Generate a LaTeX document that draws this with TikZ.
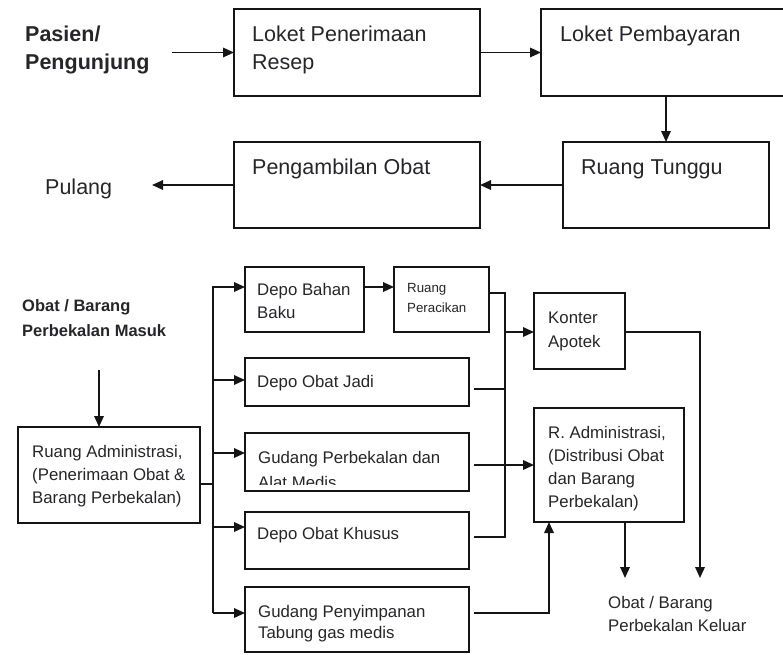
\documentclass[tikz,border=0pt]{standalone}
\usepackage{fontspec}
\setmainfont{Liberation Sans}
\usetikzlibrary{arrows.meta}
\definecolor{ink}{HTML}{151515}
\definecolor{txt}{HTML}{25252B}
\newcommand\lines[1]{\begin{tabular}[t]{@{}l@{}}#1\end{tabular}}

\begin{document}
\begin{tikzpicture}[x=1pt,y=-1pt,
  box/.style={draw=ink, line width=1.7pt, inner sep=0pt, outer sep=0pt},
  txtbig/.style={font=\fontsize{21.5}{28.5}\selectfont, text=txt, anchor=base west, inner sep=0pt},
  txtbold/.style={font=\fontsize{21.5}{28.5}\selectfont\bfseries, text=txt, anchor=base west, inner sep=0pt},
  txtmid/.style={font=\fontsize{16.8}{23.3}\selectfont, text=txt, anchor=base west, inner sep=0pt},
  txtmidbold/.style={font=\fontsize{16.5}{25}\selectfont\bfseries, text=txt, anchor=base west, inner sep=0pt},
  txtsmall/.style={font=\fontsize{13.3}{20}\selectfont, text=txt, anchor=base west, inner sep=0pt},
  ln/.style={draw=ink, line width=1.7pt},
  arr/.style={ln, -{Triangle[length=11pt,width=9.5pt]}},
]
\path[use as bounding box, clip] (0,0) rectangle (783,654);

% ---------- patient flow ----------
\node[box, minimum width=246pt, minimum height=87pt] (lpr) at (357,52.5) {};
\node[box, minimum width=249pt, minimum height=87pt] (lpb) at (665.5,52.5) {};
\node[box, minimum width=206pt, minimum height=86pt] (rtg) at (666,185) {};
\node[box, minimum width=246pt, minimum height=86pt] (pgo) at (357,185) {};

\node[txtbold] (pas) at (25,41) {\lines{Pasien/\\Pengunjung}};
\node[txtbig] (lprt) at (252,41) {\lines{Loket Penerimaan\\Resep}};
\node[txtbig] (lpbt) at (560,41) {Loket Pembayaran};
\node[txtbig] (rtgt) at (581,174) {Ruang Tunggu};
\node[txtbig] (pgot) at (252,174) {Pengambilan Obat};
\node[txtbig] (pul) at (45,194) {Pulang};

\coordinate (pasout) at (172,52.5);
\coordinate (pulin) at (152,185);
\draw[arr] (pasout) -- (lpr.west);
\draw[arr] (lpr.east) -- (lpb.west |- lpr.east);
\draw[arr] (lpb.south -| rtg.north) -- (rtg.north);
\draw[arr] (rtg.west) -- (pgo.east |- rtg.west);
\draw[arr] (pgo.west) -- (pulin);

% ---------- goods flow ----------
\node[box, minimum width=182pt, minimum height=96pt] (ram) at (109,475) {};
\node[box, minimum width=119pt, minimum height=65pt] (dbb) at (304.5,299.5) {};
\node[box, minimum width=95pt, minimum height=65pt] (rpc) at (441.5,299.5) {};
\node[box, minimum width=224pt, minimum height=48pt] (doj) at (357,382) {};
\node[box, minimum width=224pt, minimum height=58pt] (gpb) at (357,462) {};
\node[box, minimum width=224pt, minimum height=57pt] (dok) at (357,540.5) {};
\node[box, minimum width=224pt, minimum height=65pt] (gpt) at (357,619.5) {};
\node[box, minimum width=91pt, minimum height=76pt] (kon) at (579.5,331) {};
\node[box, minimum width=150pt, minimum height=114pt] (rad) at (609,465) {};

\node[txtmidbold] (msk) at (22,311) {\lines{Obat / Barang\\Perbekalan Masuk}};
\node[txtmid] (ramt) at (32,457) {\lines{Ruang Administrasi,\\(Penerimaan Obat \&\\Barang Perbekalan)}};
\node[txtmid] (dbbt) at (257,295) {\lines{Depo Bahan\\Baku}};
\node[txtsmall] (rpct) at (407,292) {\lines{Ruang\\Peracikan}};
\node[txtmid] (dojt) at (257,387) {Depo Obat Jadi};
\begin{scope}
  \clip (246,435) rectangle (468,484.5);
  \node[txtmid, font=\fontsize{16.8}{25}\selectfont] (gpbt) at (258,463) {\lines{Gudang Perbekalan dan\\Alat Medis}};
\end{scope}
\node[txtmid] (dokt) at (257,539) {Depo Obat Khusus};
\node[txtmid, font=\fontsize{16.8}{21.5}\selectfont] (gptt) at (258,617) {\lines{Gudang Penyimpanan\\Tabung gas medis}};
\node[txtmid, font=\fontsize{16.8}{24}\selectfont] (kont) at (548,323) {\lines{Konter\\Apotek}};
\node[txtmid] (radt) at (548,438) {\lines{R. Administrasi,\\(Distribusi Obat\\dan Barang\\Perbekalan)}};
\node[txtmid] (klr) at (608,608) {\lines{Obat / Barang\\Perbekalan Keluar}};

% incoming goods to the administration room
\coordinate (mskout) at (99,370);
\draw[arr] (mskout) -- (mskout |- ram.north);

% distribution bus to the stores
\coordinate (bt) at (213,287);
\coordinate (bb) at (213,613);
\coordinate (b2) at (213,380);
\coordinate (b3) at (213,453);
\coordinate (b4) at (213,527);
\draw[ln] ([yshift=-9pt]ram.east) -- ([yshift=-9pt]ram.east -| bt);
\draw[arr] (bb) -- (bt) -- (bt -| dbb.west);
\draw[arr] (b2) -- (b2 -| doj.west);
\draw[arr] (b3) -- (b3 -| gpb.west);
\draw[arr] (b4) -- (b4 -| dok.west);
\draw[arr] (bb) -- (bb -| gpt.west);
\draw[arr] (dbb.east |- bt) -- (rpc.west |- bt);

% collection towards the pharmacy counter
\coordinate (ct) at (505,293);
\coordinate (cj) at (505,389);
\coordinate (cb) at (505,537);
\coordinate (ck) at (505,332);
\draw[ln] (rpc.east |- ct) -- (ct) -- (cb) -- ([xshift=5pt]dok.east |- cb);
\draw[ln] ([xshift=5pt]doj.east |- cj) -- (cj);
\draw[arr] (ck) -- (kon.west |- ck);

% supplies and gas to the distribution administration
\coordinate (gt) at (549,613);
\draw[arr] ([xshift=5pt]gpb.east |- rad.west) -- (rad.west);
\draw[arr] ([xshift=5pt]gpt.east |- gt) -- (gt) -- (gt |- rad.south);

% outgoing goods
\coordinate (ro) at (625,578);
\coordinate (ko) at (700,578);
\draw[arr] (rad.south -| ro) -- (ro);
\draw[arr] (kon.east |- ck) -- (ck -| ko) -- (ko);
\end{tikzpicture}
\end{document}
